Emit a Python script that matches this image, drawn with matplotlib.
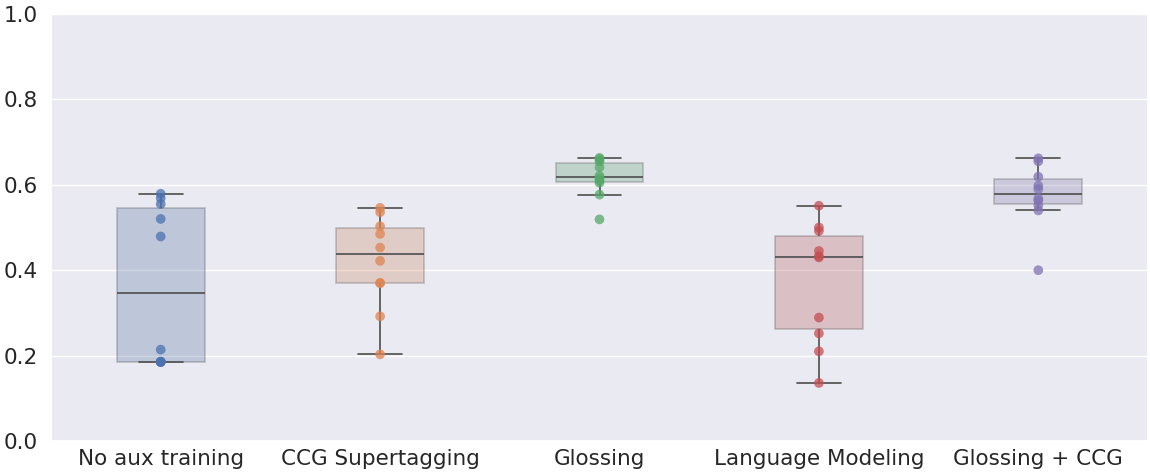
import matplotlib
matplotlib.use("Agg")
import matplotlib.pyplot as plt
import seaborn as sns
import pandas as pd

categories = ["No aux training", "CCG Supertagging", "Glossing", "Language Modeling", "Glossing + CCG"]
no_aux = [0.185, 0.185, 0.185, 0.186, 0.214, 0.479, 0.520, 0.555, 0.569, 0.579]
ccg = [0.203, 0.292, 0.370, 0.370, 0.422, 0.453, 0.485, 0.503, 0.536, 0.546]
glossing = [0.519, 0.577, 0.605, 0.610, 0.615, 0.621, 0.641, 0.655, 0.660, 0.663]
lm = [0.136, 0.210, 0.252, 0.289, 0.430, 0.433, 0.445, 0.492, 0.500, 0.551]
gloss_ccg = [0.400, 0.540, 0.552, 0.563, 0.568, 0.590, 0.598, 0.619, 0.655, 0.662]

series = [no_aux, ccg, glossing, lm, gloss_ccg]
rows = []
for cat, vals in zip(categories, series):
    for v in vals:
        rows.append({"task": cat, "score": v})
df = pd.DataFrame(rows)

sns.set_theme(style="darkgrid")
plt.rcParams['font.family'] = ['DejaVu Sans']

fig = plt.figure(figsize=(11.5, 4.73), dpi=100)
ax = fig.add_axes([51/1150, 32/473, (1148-51)/1150, (441-14)/473])

palette = sns.color_palette("deep", 5)
sns.boxplot(data=df, x="task", y="score", hue="task", palette=palette, order=categories,
            width=0.4, whis=1.5, showfliers=False, ax=ax, legend=False,
            boxprops=dict(alpha=0.3), linewidth=1.2, linecolor="0.3")
sns.stripplot(data=df, x="task", y="score", hue="task", palette=palette, order=categories,
              jitter=False, size=7, alpha=0.75, ax=ax, legend=False)

ax.set_ylim(0, 1.0)
ax.set_xlim(-0.5, 4.5)
ax.set_xlabel("")
ax.set_ylabel("")
ax.tick_params(axis="both", labelsize=15.5)
ax.tick_params(axis="x", pad=0)
fig.savefig("out.png", dpi=100)
